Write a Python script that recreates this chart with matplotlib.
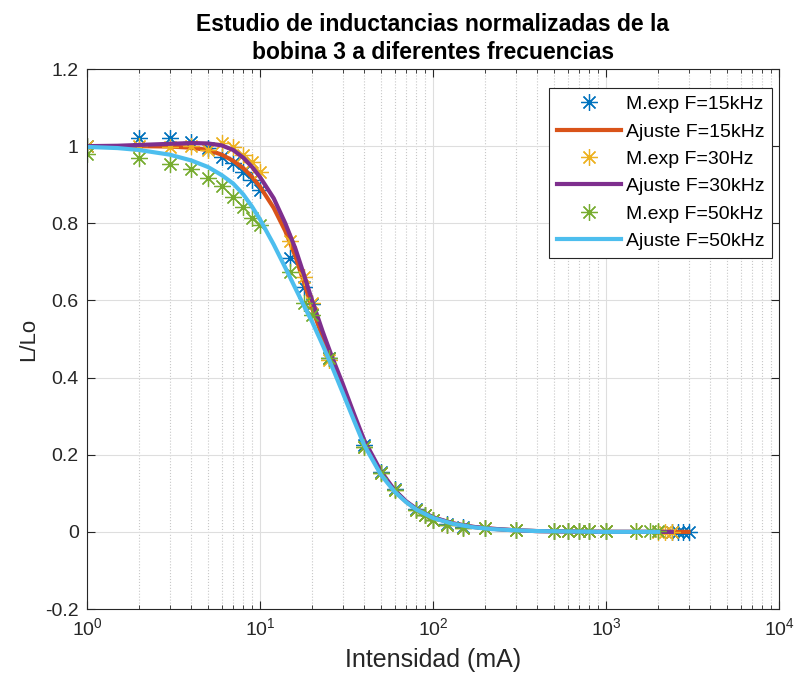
import numpy as np
import matplotlib
matplotlib.use('Agg')
import matplotlib.pyplot as plt
from matplotlib.ticker import FixedLocator, FixedFormatter, LogLocator, NullFormatter

plt.rcParams['font.family'] = ['Liberation Sans', 'DejaVu Sans']
plt.rcParams['mathtext.fontset'] = 'custom'
plt.rcParams['mathtext.rm'] = 'Liberation Sans'

# ---------------------------------------------------------------------------
# measured points (read from the figure)
# ---------------------------------------------------------------------------
x_15 = [1, 2, 3, 4, 5, 6, 7, 8, 9, 10, 15, 18, 20, 25, 40, 50, 60, 80, 90, 100,
        120, 150, 200, 300, 500, 600, 700, 800, 1000, 2400, 2600, 2800, 3000]
y_15 = [1.0, 1.022, 1.022, 1.012, 0.995, 0.973, 0.957, 0.934, 0.913, 0.887, 0.71,
        0.635, 0.59, 0.45, 0.225, 0.155, 0.11, 0.058, 0.045, 0.032,
        0.02, 0.012, 0.01, 0.005, 0.003, 0.002, 0.002, 0.001, 0.001, 0.0, 0.0, 0.0, 0.0]

x_30 = [1, 2, 3, 4, 5, 6, 7, 8, 9, 10, 15, 18, 20, 25, 40, 50, 60, 80, 90, 100,
        120, 150, 200, 300, 500, 600, 700, 800, 1000, 1500, 2000, 2200, 2400]
y_30 = [1.0, 1.0, 0.998, 1.0, 0.99, 1.008, 0.998, 0.977, 0.96, 0.934, 0.755,
        0.662, 0.594, 0.445, 0.22, 0.152, 0.108, 0.057, 0.044, 0.031,
        0.019, 0.011, 0.01, 0.005, 0.003, 0.002, 0.002, 0.001, 0.001, 0.001, 0.0, 0.0, 0.0]

x_50 = [1, 2, 3, 4, 5, 6, 7, 8, 9, 10, 15, 18, 20, 25, 40, 50, 60, 80, 90, 100,
        120, 150, 200, 300, 500, 600, 700, 800, 1000, 1500, 1800, 2000]
y_50 = [0.98, 0.968, 0.955, 0.941, 0.918, 0.897, 0.869, 0.843, 0.814, 0.796, 0.674,
        0.594, 0.563, 0.451, 0.22, 0.153, 0.109, 0.057, 0.044, 0.031,
        0.018, 0.01, 0.01, 0.005, 0.003, 0.002, 0.002, 0.002, 0.002, 0.001, 0.001, 0.001]

# ---------------------------------------------------------------------------
# fitted curves
# ---------------------------------------------------------------------------
xf_15 = [1, 1.5, 2, 3, 4, 5, 6, 7, 8, 9, 10, 12, 14, 16, 18, 20, 23, 26, 30, 35, 40,
         50, 60, 70, 80, 100, 130, 170, 220, 300, 400, 600, 1000, 3000]
yf_15 = [1.0, 1.0, 1.0, 0.999, 0.996, 0.99, 0.978, 0.962, 0.943, 0.92, 0.895, 0.84,
         0.78, 0.715, 0.645, 0.58, 0.505, 0.44, 0.37, 0.295, 0.232,
         0.153, 0.106, 0.078, 0.059, 0.037, 0.022, 0.013, 0.008, 0.004, 0.002, 0.001, 0.0, 0.0]

xf_30 = [1, 1.5, 2, 3, 4, 5, 6, 7, 8, 9, 10, 12, 14, 16, 18, 20, 23, 26, 30, 35, 40,
         50, 60, 70, 80, 100, 130, 170, 220, 300, 400, 600, 1000, 2400]
yf_30 = [1.0, 1.001, 1.003, 1.006, 1.008, 1.007, 1.002, 0.99, 0.97, 0.946, 0.92, 0.865,
         0.80, 0.735, 0.665, 0.60, 0.52, 0.455, 0.385, 0.305, 0.238,
         0.157, 0.108, 0.079, 0.06, 0.038, 0.022, 0.013, 0.008, 0.004, 0.002, 0.001, 0.0, 0.0]

xf_50 = [1, 1.5, 2, 3, 4, 5, 6, 7, 8, 9, 10, 12, 14, 16, 18, 20, 23, 26, 30, 35, 40,
         50, 60, 70, 80, 100, 130, 170, 220, 300, 400, 600, 1000, 2000]
yf_50 = [0.998, 0.995, 0.99, 0.978, 0.963, 0.946, 0.925, 0.903, 0.875, 0.843, 0.81, 0.745,
         0.685, 0.632, 0.585, 0.545, 0.485, 0.43, 0.362, 0.288, 0.225,
         0.148, 0.104, 0.077, 0.058, 0.036, 0.021, 0.012, 0.007, 0.004, 0.002, 0.001, 0.0, 0.0]

labels = ['M.exp F=15kHz', 'Ajuste F=15kHz', 'M.exp F=30Hz', 'Ajuste F=30kHz',
          'M.exp F=50kHz', 'Ajuste F=50kHz']

y_ticks = [-0.2, 0, 0.2, 0.4, 0.6, 0.8, 1, 1.2]
y_tick_labels = ['-0.2', '0', '0.2', '0.4', '0.6', '0.8', '1', '1.2']

# matlab default colours
c_blue = '#0072BD'
c_red = '#D95319'
c_yellow = '#EDB120'
c_purple = '#7E2F8E'
c_green = '#77AC30'
c_cyan = '#4DBEEE'
c_axis = '#262626'

fig = plt.figure(figsize=(8.06, 6.8), dpi=100)
ax = fig.add_axes([87 / 806, 71 / 680, 692 / 806, 540 / 680])

star = (8, 2, 0)
mkw = dict(linestyle='none', marker=star, markersize=12, markeredgewidth=0.9)

ax.plot(x_15, y_15, color=c_blue, label=labels[0], **mkw)
ax.plot(xf_15, yf_15, color=c_red, linewidth=3, label=labels[1])
ax.plot(x_30, y_30, color=c_yellow, label=labels[2], **mkw)
ax.plot(xf_30, yf_30, color=c_purple, linewidth=3, label=labels[3])
ax.plot(x_50, y_50, color=c_green, label=labels[4], **mkw)
ax.plot(xf_50, yf_50, color=c_cyan, linewidth=3, label=labels[5])

ax.set_xscale('log')
ax.set_xlim(1, 1e4)
ax.set_ylim(-0.2, 1.2)
ax.yaxis.set_major_locator(FixedLocator(y_ticks))
ax.yaxis.set_major_formatter(FixedFormatter(y_tick_labels))
ax.xaxis.set_major_locator(LogLocator(base=10, numticks=10))
ax.xaxis.set_minor_locator(LogLocator(base=10, subs=np.arange(2, 10), numticks=20))
ax.xaxis.set_minor_formatter(NullFormatter())

ax.grid(True, which='major', color='#dedede', linewidth=0.8)
ax.grid(True, which='minor', axis='x', color='#c8c8c8', linewidth=0.8, linestyle=':')
ax.set_axisbelow(True)

for s in ax.spines.values():
    s.set_color(c_axis)
    s.set_linewidth(0.8)
ax.tick_params(which='both', direction='in', top=True, right=True, colors=c_axis,
               labelsize=14, labelcolor=c_axis)
ax.tick_params(which='major', length=6, pad=6)
ax.tick_params(which='minor', length=3)

ax.set_xlabel('Intensidad (mA)', fontsize=18, color=c_axis, labelpad=6)
ax.set_ylabel('L/Lo', fontsize=16, color=c_axis, labelpad=4)
ax.set_title('Estudio de inductancias normalizadas de la\nbobina 3 a diferentes frecuencias',
             fontsize=16.5, fontweight='bold', color='black', pad=7, linespacing=1.3)

leg = ax.legend(loc='upper right', bbox_to_anchor=(0.99, 0.965), borderaxespad=0,
                fontsize=14, numpoints=1, handlelength=3.3, handletextpad=0.25,
                labelspacing=0.5, fancybox=False, framealpha=1, edgecolor=c_axis,
                borderpad=0.4)
leg.get_frame().set_linewidth(0.8)

plt.savefig('out.png', dpi=100)
